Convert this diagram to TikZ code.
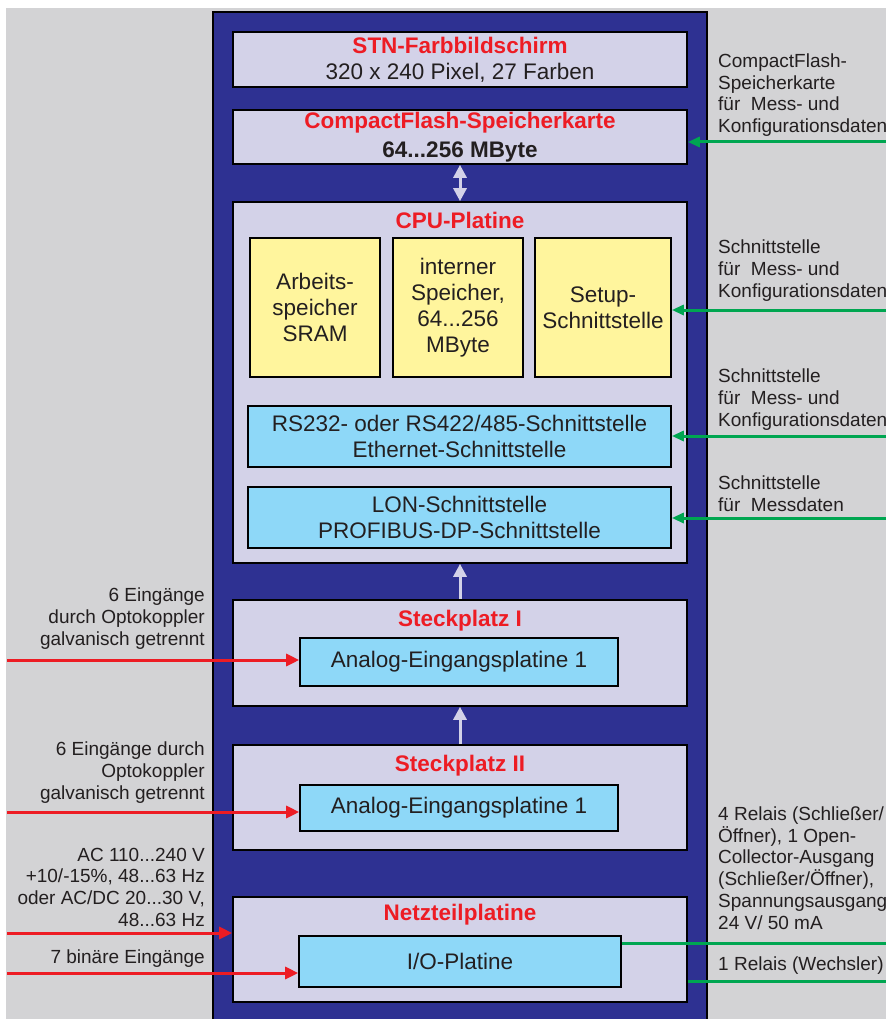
\documentclass[tikz,border=0pt]{standalone}
\usepackage{fontspec}
\setmainfont{Liberation Sans}
\usetikzlibrary{arrows.meta}
\definecolor{paper}{RGB}{211,211,213}
\definecolor{panelblue}{RGB}{46,49,146}
\definecolor{boardfill}{RGB}{211,210,232}
\definecolor{memfill}{RGB}{255,245,157}
\definecolor{ifacefill}{RGB}{142,216,248}
\definecolor{titlered}{RGB}{237,28,36}
\definecolor{portgreen}{RGB}{0,166,81}
\definecolor{ink}{RGB}{35,31,32}
\newcommand{\boxfont}{\fontsize{22.5}{26}\selectfont}
\newcommand{\notefont}{\fontsize{19}{21.7}\selectfont}
\tikzset{board/.style={draw=black, line width=1.6pt, fill=boardfill, inner sep=0pt, align=center, font=\boxfont, text=ink},
memory/.style={board, fill=memfill},
iface/.style={board, fill=ifacefill},
title/.style={font=\boxfont\bfseries, text=titlered, inner sep=0pt},
note/.style={font=\notefont, text=ink, inner sep=0pt},
inarrow/.style={draw=titlered, line width=3pt, -{Triangle[length=13pt,width=12pt]}},
outarrow/.style={draw=portgreen, line width=3pt, -{Triangle[length=12pt,width=10pt]}},
outline/.style={draw=portgreen, line width=3pt},
busarrow/.style={draw=boardfill, line width=3pt, -{Triangle[length=13pt,width=13pt]}},}

\begin{document}
\begin{tikzpicture}[x=1pt, y=-1pt]
\useasboundingbox (0,0) rectangle (886,1019);
\fill[white] (0,0) rectangle (886,1019);
\fill[paper] (6,8) rectangle (886,1019);
\filldraw[fill=panelblue, draw=black, line width=1.6pt] (213,12) rectangle (707,1030);

\node [board, minimum width=454pt, minimum height=55pt] (stn) at (460,59.5)
  {\textcolor{titlered}{\bfseries STN-Farbbildschirm}\\320 x 240 Pixel, 27 Farben};
\node [board, minimum width=454pt, minimum height=54pt] (cf) at (460,137)
  {\textcolor{titlered}{\bfseries CompactFlash-Speicherkarte}\\[3pt]\bfseries 64...256 MByte};

\node [board, minimum width=454pt, minimum height=361pt] (cpu) at (460,382.5) {};
\node [title] (cputitle) at (460,220) {CPU-Platine};
\node [memory, minimum width=130pt, minimum height=139pt] (sram) at (315,307.5) {Arbeits-\\speicher\\SRAM};
\node [memory, minimum width=130pt, minimum height=139pt] (flash) at (458,307.5) {interner\\Speicher,\\64...256\\MByte};
\node [memory, minimum width=136pt, minimum height=139pt] (setup) at (603,307.5) {Setup-\\Schnittstelle};
\node [iface, minimum width=423pt, minimum height=61pt] (rs) at (459.5,436.5) {RS232- oder RS422/485-Schnittstelle\\Ethernet-Schnittstelle};
\node [iface, minimum width=423pt, minimum height=61pt] (lon) at (459.5,517.5) {LON-Schnittstelle\\PROFIBUS-DP-Schnittstelle};

\node [board, minimum width=454pt, minimum height=106pt] (slot1) at (460,653) {};
\node [title] (slot1title) at (460,621) {Steckplatz I};
\node [iface, minimum width=318pt, minimum height=48pt] (an1) at (459,662) {Analog-Eingangsplatine 1};

\node [board, minimum width=454pt, minimum height=105pt] (slot2) at (460,797.5) {};
\node [title] (slot2title) at (460,766) {Steckplatz II};
\node [iface, minimum width=318pt, minimum height=46pt] (an2) at (459,808) {Analog-Eingangsplatine 1};

\node [board, minimum width=454pt, minimum height=105pt] (psu) at (460,949.5) {};
\node [title] (psutitle) at (460,915) {Netzteilplatine};
\node [iface, minimum width=322pt, minimum height=51pt] (io) at (460,961.5) {I/O-Platine};

% internal buses
\draw[busarrow, {Triangle[length=13pt,width=13pt]}-{Triangle[length=13pt,width=13pt]}] (cf.south -| 460,0) -- (cpu.north -| 460,0);
\draw[busarrow] (slot1.north) -- (cpu.south);
\draw[busarrow] (slot2.north) -- (slot1.south);

% right side
\coordinate (cfport) at (886,142);
\coordinate (setport) at (886,310);
\coordinate (rsport) at (886,436);
\coordinate (lonport) at (886,518);
\coordinate (ioport) at (886,943);
\coordinate (relport) at (886,981);
\draw[outarrow] (cfport) -- (cfport -| cf.east);
\draw[outarrow] (setport) -- (setport -| setup.east);
\draw[outarrow] (rsport) -- (rsport -| rs.east);
\draw[outarrow] (lonport) -- (lonport -| lon.east);
\draw[outline] (ioport -| io.east) -- (ioport);
\draw[outline] (relport -| psu.east) -- (relport);

\node [note, anchor=west, align=left] (cfnote) at (718,95) {CompactFlash-\\Speicherkarte\\für~ Mess- und\\Konfigurationsdaten};
\node [note, anchor=west, align=left] (setnote) at (718,270.5) {Schnittstelle\\für~ Mess- und\\Konfigurationsdaten};
\node [note, anchor=west, align=left] (rsnote) at (718,399.5) {Schnittstelle\\für~ Mess- und\\Konfigurationsdaten};
\node [note, anchor=west, align=left] (lonnote) at (718,494) {Schnittstelle\\für~ Messdaten};
\node [note, anchor=west, align=left] (ionote) at (718,868) {4 Relais (Schließer/\\Öffner), 1 Open-\\Collector-Ausgang\\(Schließer/Öffner),\\Spannungsausgang\\24 V/ 50 mA};
\node [note, anchor=west, align=left] (relnote) at (718,966) {1 Relais (Wechsler)};

% left side
\coordinate (in1) at (7,660);
\coordinate (in2) at (7,812);
\coordinate (pwr) at (7,933);
\coordinate (bin) at (7,973);
\draw[inarrow] (in1) -- (in1 -| an1.west);
\draw[inarrow] (in2) -- (in2 -| an2.west);
\draw[inarrow] (pwr) -- (pwr -| psu.west);
\draw[inarrow] (bin) -- (bin -| io.west);

\node [note, anchor=east, align=right] (in1note) at (205,618.5) {6 Eingänge\\durch Optokoppler\\galvanisch getrennt};
\node [note, anchor=east, align=right] (in2note) at (205,772.5) {6 Eingänge durch\\Optokoppler\\galvanisch getrennt};
\node [note, anchor=east, align=right] (pwrnote) at (205,887) {AC 110...240 V\\+10/-15\%, 48...63 Hz\\oder AC/DC 20...30 V,\\48...63 Hz};
\node [note, anchor=east, align=right] (binnote) at (205,959) {7 binäre Eingänge};
\end{tikzpicture}
\end{document}
